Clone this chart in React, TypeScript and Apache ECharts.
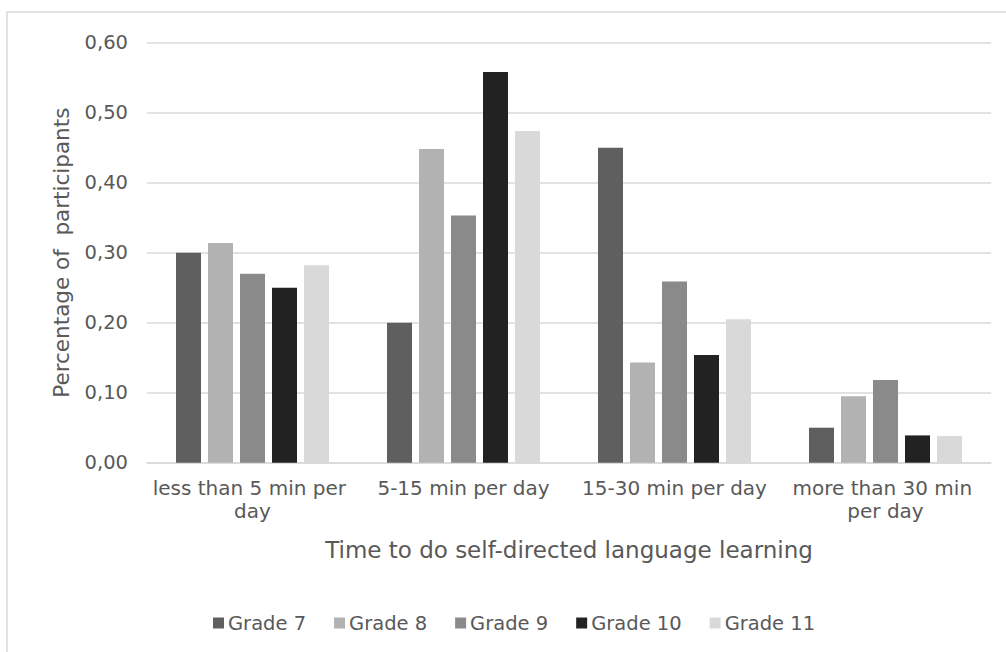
import React, { useEffect, useRef } from "react";
import * as echarts from "echarts";

const categories = [
  "less than 5 min per day",
  "5-15 min per day",
  "15-30 min per day",
  "more than 30 min per day",
];

const grade7 = [0.3, 0.2, 0.45, 0.05];
const grade8 = [0.314, 0.448, 0.143, 0.095];
const grade9 = [0.27, 0.353, 0.259, 0.118];
const grade10 = [0.25, 0.558, 0.154, 0.039];
const grade11 = [0.282, 0.474, 0.205, 0.038];

const seriesNames = ["Grade 7", "Grade 8", "Grade 9", "Grade 10", "Grade 11"];
const seriesData = [grade7, grade8, grade9, grade10, grade11];
const seriesColors = ["#5f5f5f", "#b2b2b2", "#8a8a8a", "#222222", "#d9d9d9"];

const yTicks = { min: 0, max: 0.6, interval: 0.1 };

const FONT = "DejaVu Sans";
const TEXT = "#595959";
const GRID = "#d9d9d9";

export default function App() {
  const ref = useRef<HTMLDivElement>(null);

  useEffect(() => {
    if (!ref.current) return;
    const chart = echarts.init(ref.current, undefined, { renderer: "svg" });
    chart.setOption({
      animation: false,
      backgroundColor: "#ffffff",
      textStyle: { fontFamily: FONT, color: TEXT },
      graphic: [
        {
          type: "rect",
          shape: { x: 7, y: 12, width: 1200, height: 1000 },
          style: { fill: "none", stroke: GRID, lineWidth: 1.5 },
          silent: true,
        },
      ],
      grid: { left: 147, right: 15, top: 42.7, bottom: 189.3, containLabel: false },
      legend: {
        data: seriesNames,
        left: 208,
        top: 608,
        icon: "rect",
        itemWidth: 11,
        itemHeight: 11,
        itemGap: 28,
        textStyle: { fontFamily: FONT, fontSize: 19.5, color: TEXT, padding: [0, 0, 0, -1] },
      },
      xAxis: {
        type: "category",
        data: categories,
        name: "Time to do self-directed language learning",
        nameLocation: "middle",
        nameGap: 76,
        nameTextStyle: { fontFamily: FONT, fontSize: 23, color: TEXT },
        axisLine: { show: true, lineStyle: { color: GRID, width: 1.5 } },
        axisTick: { show: false },
        axisLabel: {
          fontFamily: FONT,
          fontSize: 20,
          color: TEXT,
          margin: 14,
          width: 205,
          overflow: "break",
          lineHeight: 23,
          interval: 0,
        },
      },
      yAxis: {
        type: "value",
        min: yTicks.min,
        max: yTicks.max,
        interval: yTicks.interval,
        name: "Percentage of  participants",
        nameLocation: "middle",
        nameGap: 75,
        nameTextStyle: { fontFamily: FONT, fontSize: 21.5, color: TEXT },
        axisLine: { show: false },
        axisTick: { show: false },
        axisLabel: {
          fontFamily: FONT,
          fontSize: 19.5,
          color: TEXT,
          margin: 19,
          formatter: (v: number) => v.toFixed(2).replace(".", ","),
        },
        splitLine: { lineStyle: { color: GRID, width: 1.5 } },
      },
      series: seriesNames.map((name, i) => ({
        name,
        type: "bar",
        data: seriesData[i],
        barWidth: 25,
        barGap: "28%",
        itemStyle: { color: seriesColors[i] },
      })),
    });
    return () => chart.dispose();
  }, []);

  return (
    <div
      ref={ref}
      style={{ position: "fixed", left: 0, top: 0, width: 1006, height: 652 }}
    />
  );
}
